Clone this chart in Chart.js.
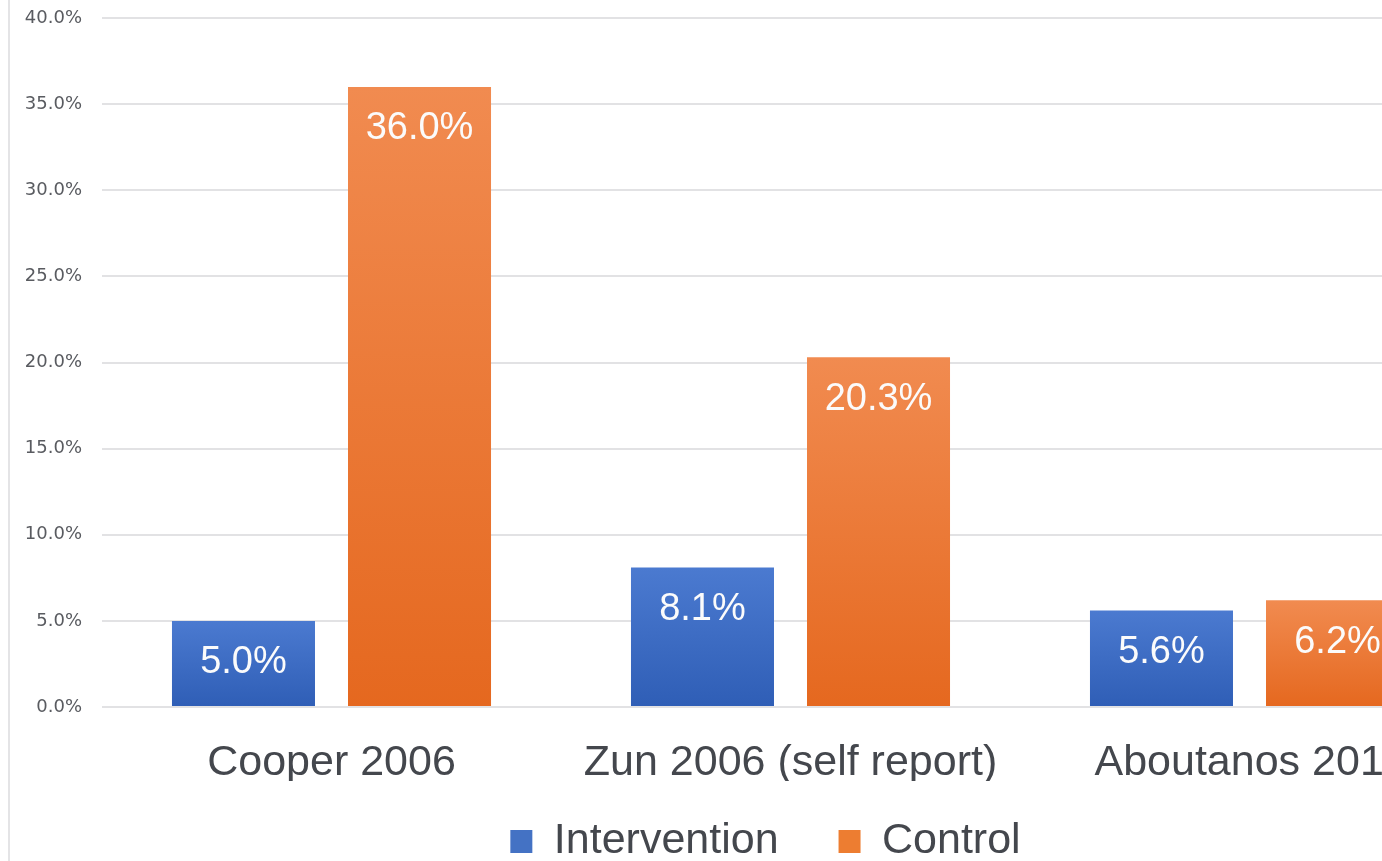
<!DOCTYPE html>
<html>
<head>
<meta charset="utf-8">
<script src="https://cdn.jsdelivr.net/npm/chart.js@4"></script>
<style>
  html, body { margin: 0; padding: 0; background: #fff; overflow: hidden; }
  #wrap { position: absolute; left: 0; top: 0; width: 1532px; height: 894px; }
  #edge { position: absolute; left: 8px; top: 0; width: 2px; height: 861px; background: #e4e4e6; }
</style>
</head>
<body>
<div id="wrap"><canvas id="chart"></canvas></div>
<div id="edge"></div>
<script>
// Chart data
const categories = ['Cooper 2006', 'Zun 2006 (self report)', 'Aboutanos 2011'];
const interventionValues = [5.0, 8.1, 5.6];
const controlValues = [36.0, 20.3, 6.2];
const yTicks = [0, 5, 10, 15, 20, 25, 30, 35, 40];

const seriesNames = ['Intervention', 'Control'];
const seriesColors = ['#4472c4', '#ed7d31'];
const gradients = [['#4b7ad0', '#2f5eb6'], ['#f18b50', '#e5681f']];
const textColor = '#44474d';

// per-bar vertical gradient, lighter on top
function barFill(index) {
  return ctx => {
    const chart = ctx.chart;
    if (ctx.type !== 'data' || !chart.chartArea || !chart.scales.y) return seriesColors[index];
    const y = chart.scales.y;
    const top = y.getPixelForValue(ctx.raw);
    const base = y.getPixelForValue(0);
    const g = chart.ctx.createLinearGradient(0, top, 0, base);
    g.addColorStop(0, gradients[index][0]);
    g.addColorStop(1, gradients[index][1]);
    return g;
  };
}

const valueLabels = {
  id: 'valueLabels',
  afterDatasetsDraw(chart) {
    const ctx = chart.ctx;
    ctx.save();
    ctx.font = '38px "Liberation Sans", Arial, sans-serif';
    ctx.fillStyle = '#fbfbfb';
    ctx.textAlign = 'center';
    ctx.textBaseline = 'middle';
    chart.data.datasets.forEach((ds, i) => {
      chart.getDatasetMeta(i).data.forEach((bar, j) => {
        ctx.fillText(ds.data[j].toFixed(1) + '%', bar.x, bar.y + 42);
      });
    });
    ctx.restore();
  }
};

// nudge the legend: a bit up (closer to the axis labels) and to the right
const legendNudge = {
  id: 'legendNudge',
  afterLayout(chart) {
    const lg = chart.legend;
    lg.top -= 21;
    lg.bottom -= 21;
    lg.left += 26;
    lg.right += 26;
  }
};

new Chart(document.getElementById('chart'), {
  type: 'bar',
  data: {
    labels: categories,
    datasets: [
      { label: seriesNames[0], data: interventionValues, backgroundColor: barFill(0) },
      { label: seriesNames[1], data: controlValues, backgroundColor: barFill(1) }
    ]
  },
  options: {
    responsive: true,
    maintainAspectRatio: false,
    animation: false,
    categoryPercentage: 0.767,
    barPercentage: 0.8125,
    layout: { padding: { left: 0, right: 53, top: 18, bottom: 0 } },
    plugins: {
      tooltip: { enabled: false },
      legend: {
        position: 'bottom',
        labels: {
          color: textColor,
          font: { family: '"Liberation Sans", Arial, sans-serif', size: 43 },
          boxWidth: 22,
          boxHeight: 23,
          padding: 60,
          generateLabels: () => seriesNames.map((name, i) => ({
            text: name,
            fillStyle: seriesColors[i],
            strokeStyle: seriesColors[i],
            fontColor: textColor,
            lineWidth: 0,
            datasetIndex: i
          }))
        }
      }
    },
    scales: {
      x: {
        afterFit: s => { s.height = 74; },
        grid: { display: false },
        border: { display: false },
        ticks: {
          color: textColor,
          padding: 22,
          maxRotation: 0,
          autoSkip: false,
          font: { family: '"Liberation Sans", Arial, sans-serif', size: 43 }
        }
      },
      y: {
        min: 0,
        max: 40,
        afterFit: s => { s.width = 102; s.paddingTop = 0; s.paddingBottom = 0; },
        afterBuildTicks: s => { s.ticks = yTicks.map(v => ({ value: v })); },
        grid: { color: '#e2e2e4', lineWidth: 2, drawTicks: false },
        border: { display: false },
        ticks: {
          color: '#595b60',
          padding: 20,
          font: { family: '"DejaVu Sans", sans-serif', size: 18 },
          callback: v => v.toFixed(1) + '%'
        }
      }
    }
  },
  plugins: [valueLabels, legendNudge]
});
</script>
</body>
</html>
